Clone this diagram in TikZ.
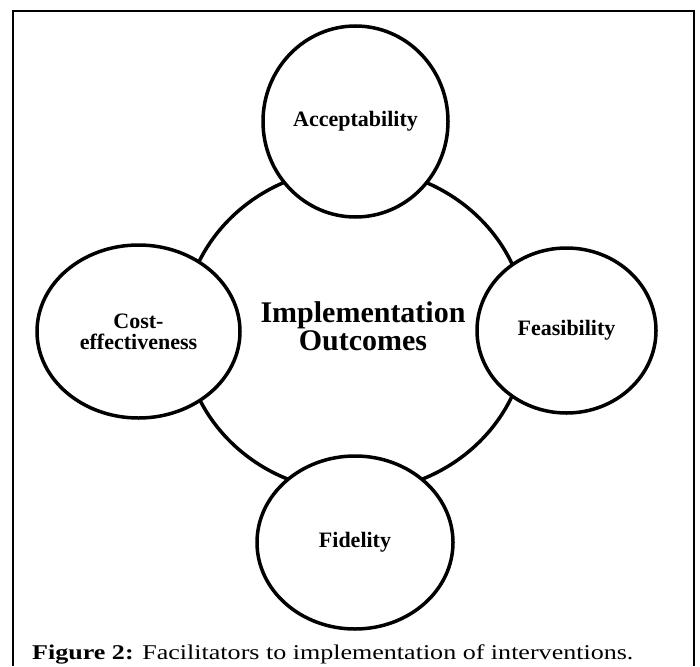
\documentclass[tikz,border=0pt]{standalone}
\usepackage{fontspec}
\setmainfont{Liberation Serif}
\newfontfamily\captionfont[FakeStretch=1.24]{Liberation Serif}
\usetikzlibrary{shapes.geometric}

\tikzset{
  outcome/.style={ellipse, draw=borderColour, fill=white, line width=3.5pt,
    inner sep=0pt, align=center, font=\bfseries\fontsize{22}{21}\selectfont},
}

\begin{document}
\begin{tikzpicture}[x=1pt, y=-1pt]
    \definecolor{borderColour}{HTML}{000000}

    \useasboundingbox (0,0) rectangle (700,666);

    % Frame, left open at the bottom
    \draw[borderColour, line width=2pt] (13,666) -- (13,11) -- (694,11) -- (694,666);

    % Central circle
    \node[outcome, minimum width=344pt, minimum height=324pt] (outcomes) at (355,330) {};
    \node[font=\bfseries\fontsize{30}{28}\selectfont, align=center] (outcomesText) at (363,326) {Implementation\\Outcomes};

    % Four outcomes round it
    \node[outcome, minimum width=185pt, minimum height=191pt] (accept) at (355.5,121.5) {Acceptability};
    \node[outcome, minimum width=179pt, minimum height=165pt] (feas) at (566.5,330.5) {Feasibility};
    \node[outcome, minimum width=196pt, minimum height=173pt] (fidel) at (355,542.5) {Fidelity};
    \node[outcome, minimum width=203pt, minimum height=173pt] (cost) at (138.5,331.5) {Cost-\\effectiveness};

    % Caption
    \node[anchor=base west, inner sep=0pt, font=\captionfont\fontsize{21}{21}\selectfont] (caption) at (32,659)
        {\textbf{Figure 2:} Facilitators to implementation of interventions.};

\end{tikzpicture}
\end{document}
